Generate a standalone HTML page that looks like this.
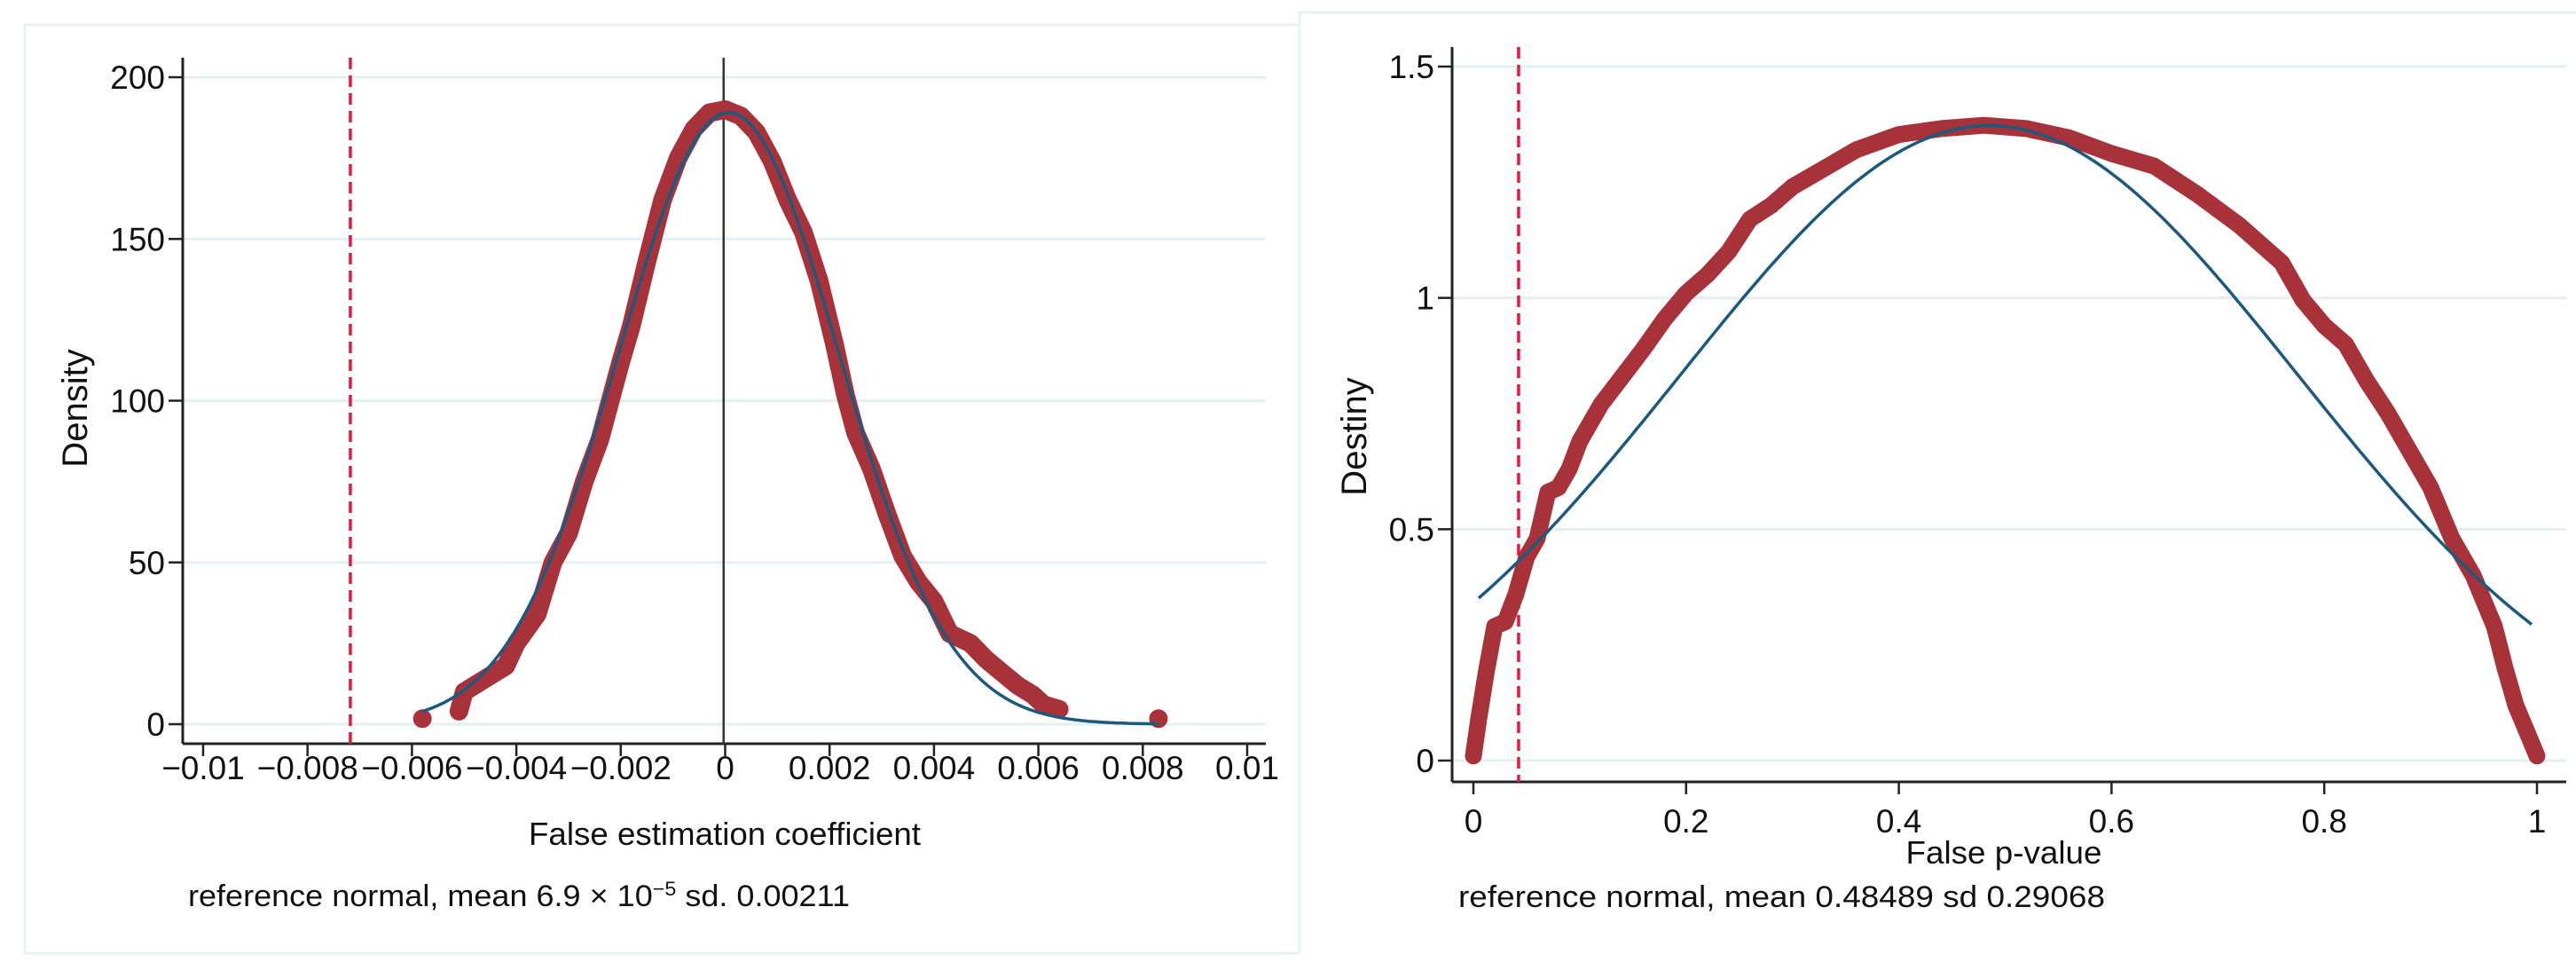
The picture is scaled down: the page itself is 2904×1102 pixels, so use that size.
<!DOCTYPE html>
<html><head><meta charset="utf-8"><style>
html,body{margin:0;padding:0;background:#fff;overflow:hidden;}
svg{display:block;font-family:"Liberation Sans",sans-serif;}
</style></head><body>
<svg id="fig" width="2904" height="1102" viewBox="0 0 2904 1102" xmlns="http://www.w3.org/2000/svg">
<rect x="28" y="28" width="1437" height="1046" fill="none" stroke="#e8f1f3" stroke-width="3"/>
<path d="M1465 1075 V14 H2904" fill="none" stroke="#e8f1f3" stroke-width="3"/>
<g id="left"></g>
<g id="right"></g>
</svg>
<script>
// ---- Left chart data ----
const leftXTicks = [-0.01,-0.008,-0.006,-0.004,-0.002,0,0.002,0.004,0.006,0.008,0.01];
const leftXTickLabels = ["\u22120.01","\u22120.008","\u22120.006","\u22120.004","\u22120.002","0","0.002","0.004","0.006","0.008","0.01"];
const leftYTicks = [0,50,100,150,200];
const leftDensX = [-0.0051,-0.0050,-0.0046,-0.0042,-0.0040,-0.0036,-0.0033,-0.0030,-0.0027,-0.0024,-0.0022,-0.0020,-0.0018,-0.0015,-0.0012,-0.0009,-0.0006,-0.0003,0,0.0003,0.0006,0.0009,0.0012,0.0015,0.0018,0.0021,0.0023,0.0025,0.0028,0.0031,0.0034,0.0037,0.0040,0.0043,0.0047,0.0050,0.0053,0.0056,0.0059,0.0061,0.0064];
const leftDensY = [4,10,14,18,25,34,50,59,75,88,100,112,123,143,162,175,184,189,190,188,183,174,162,152,137,117,102,90,79,65,52,44,38,28,25,20,16,12,9,6,4.6];
const leftIsoX = [-0.0058,0.0083];
const leftIsoY = [1.7,1.7];
const leftMean = 0.000069, leftSd = 0.00211;
const leftNormRange = [-0.0058,0.0083];
const leftCutoff = -0.00718;
const leftZeroLine = -0.00003;

// ---- Right chart data ----
const rightXTicks = [0,0.2,0.4,0.6,0.8,1];
const rightXTickLabels = ["0","0.2","0.4","0.6","0.8","1"];
const rightYTicks = [0,0.5,1,1.5];
const rightYTickLabels = ["0","0.5","1","1.5"];
const rightDensX = [0,0.005,0.012,0.02,0.03,0.04,0.05,0.06,0.07,0.08,0.09,0.10,0.12,0.14,0.16,0.18,0.20,0.22,0.24,0.26,0.28,0.30,0.33,0.36,0.40,0.44,0.48,0.52,0.56,0.60,0.64,0.68,0.72,0.76,0.78,0.80,0.82,0.84,0.86,0.88,0.90,0.92,0.94,0.96,0.97,0.98,0.99,1.0];
const rightDensY = [0.01,0.09,0.19,0.29,0.30,0.36,0.44,0.48,0.58,0.59,0.63,0.69,0.77,0.83,0.89,0.955,1.01,1.05,1.10,1.17,1.20,1.24,1.28,1.32,1.353,1.366,1.373,1.366,1.346,1.312,1.285,1.225,1.157,1.076,0.995,0.94,0.90,0.82,0.75,0.67,0.59,0.48,0.40,0.29,0.20,0.12,0.065,0.01];
const rightMean = 0.48489, rightSd = 0.29068;
const rightNormRange = [0.005,0.995];
const rightCutoff = 0.0425;

const NS = "http://www.w3.org/2000/svg";
function mk(parent, tag, attrs, text){
  const e = document.createElementNS(NS, tag);
  for (const k in attrs) e.setAttribute(k, attrs[k]);
  if (text !== undefined) e.textContent = text;
  parent.appendChild(e);
  return e;
}
function npdf(x,m,s){ return Math.exp(-0.5*((x-m)/s)**2)/(s*Math.sqrt(2*Math.PI)); }

function drawChart(g, cfg){
  const sx = v => cfg.x0 + (v - cfg.xmin)/(cfg.xmax - cfg.xmin)*(cfg.x1 - cfg.x0);
  const sy = v => cfg.y0 + (v - cfg.ymin)/(cfg.ymax - cfg.ymin)*(cfg.y1 - cfg.y0);
  cfg.yTicks.forEach((t,i)=>{
    const l = mk(g,'line',{x1:cfg.axX,x2:cfg.axRight,y1:sy(t),y2:sy(t),stroke:'#e3eff2','stroke-width':3});
    
    
    const tk = mk(g,'line',{x1:cfg.axX-16,x2:cfg.axX,y1:sy(t),y2:sy(t),stroke:'#222','stroke-width':2.5});
    
    
    const tx = mk(g,'text',{x:cfg.axX-20,y:sy(t)+13,'text-anchor':'end','font-size':37,fill:'#111'}, cfg.yLabels[i]);
    
    
  });
  cfg.xTicks.forEach((t,i)=>{
    const tk = mk(g,'line',{x1:sx(t),x2:sx(t),y1:cfg.axY,y2:cfg.axY+14,stroke:'#222','stroke-width':2.5});
    
    
    const tx = mk(g,'text',{x:sx(t),y:cfg.xlY,'text-anchor':'middle','font-size':37,fill:'#111'}, cfg.xLabels[i]);
    
    
  });
  const ya = mk(g,'line',{x1:cfg.axX,x2:cfg.axX,y1:cfg.axTop,y2:cfg.axY,stroke:'#222','stroke-width':3});
  
  
  const xa = mk(g,'line',{x1:cfg.axX,x2:cfg.axRight,y1:cfg.axY,y2:cfg.axY,stroke:'#222','stroke-width':3});
  
  
  if (cfg.zeroLine !== undefined){
    const z = mk(g,'line',{x1:sx(cfg.zeroLine),x2:sx(cfg.zeroLine),y1:cfg.axTop,y2:cfg.axY,stroke:'#333','stroke-width':2.5});
    
    
  }
  const c = mk(g,'line',{x1:sx(cfg.cutoff),x2:sx(cfg.cutoff),y1:cfg.axTop,y2:cfg.axY,stroke:'#e8193c','stroke-width':3.5,'stroke-dasharray':'13 7'});
  
  
  const pts = cfg.dx.map((v,i)=>sx(v).toFixed(1)+','+sy(cfg.dy[i]).toFixed(1)).join(' ');
  const pl = mk(g,'polyline',{points:pts,fill:'none',stroke:'#a8323a','stroke-width':cfg.dot*2,'stroke-linecap':'round','stroke-linejoin':'round'});
  
  
  (cfg.isoX||[]).forEach((v,i)=>{
    const d = mk(g,'circle',{cx:sx(v),cy:sy(cfg.isoY[i]),r:cfg.dot,fill:'#a8323a'});
    
    
  });
  let np = [];
  const n = 200;
  for (let i=0;i<=n;i++){
    const x = cfg.nr[0] + (cfg.nr[1]-cfg.nr[0])*i/n;
    np.push(sx(x).toFixed(1)+','+sy(npdf(x,cfg.mean,cfg.sd)).toFixed(1));
  }
  const nc = mk(g,'polyline',{points:np.join(' '),fill:'none',stroke:'#1b5a7e','stroke-width':3.5});
  
  
  const xt = mk(g,'text',{x:cfg.xtX,y:cfg.xtY,'text-anchor':'middle','font-size':36,fill:'#111',textLength:cfg.xtW,lengthAdjust:'spacingAndGlyphs'}, cfg.xTitle);
  
  
  const yt = mk(g,'text',{x:0,y:0,'text-anchor':'middle','font-size':40,fill:'#111',transform:`translate(${cfg.ytX},${cfg.ytY}) rotate(-90)`}, cfg.yTitle);
  
  
  const nt = mk(g,'text',{x:cfg.noteX,y:cfg.noteY,'font-size':34,fill:'#111',textLength:cfg.noteW,lengthAdjust:'spacingAndGlyphs'});
  
  
  cfg.note.forEach(p=>{
    mk(nt,'tspan',p.sup?{dy:-12,'font-size':22}:(p.after?{dy:12}:{}),p.t);
  });
}

drawChart(document.getElementById('left'),{
  xmin:-0.01,xmax:0.01,x0:229,x1:1406,ymin:0,ymax:200,y0:816,y1:87,
  axX:206,axTop:65,axY:838,axRight:1427,xlY:878,
  xTicks:leftXTicks,xLabels:leftXTickLabels,yTicks:leftYTicks,yLabels:leftYTicks.map(String),
  dx:leftDensX,dy:leftDensY,isoX:leftIsoX,isoY:leftIsoY,dot:10.5,
  mean:leftMean,sd:leftSd,nr:leftNormRange,cutoff:leftCutoff,zeroLine:leftZeroLine,
  xTitle:'False estimation coefficient',xtX:817,xtY:952,xtW:442,
  yTitle:'Density',ytX:98,ytY:460,
  noteX:212,noteY:1021,noteW:746,
  note:[{t:'reference normal, mean 6.9 \u00d7 10'},{t:'\u22125',sup:true},{t:' sd. 0.00211',after:true}]
});
drawChart(document.getElementById('right'),{
  xmin:0,xmax:1,x0:1661,x1:2860,ymin:0,ymax:1.5,y0:857,y1:75,
  axX:1637,axTop:53,axY:881,axRight:2893,xlY:938,
  xTicks:rightXTicks,xLabels:rightXTickLabels,yTicks:rightYTicks,yLabels:rightYTickLabels,
  dx:rightDensX,dy:rightDensY,dot:9.5,
  mean:rightMean,sd:rightSd,nr:rightNormRange,cutoff:rightCutoff,
  xTitle:'False p-value',xtX:2259,xtY:973,xtW:221,
  yTitle:'Destiny',ytX:1540,ytY:492,
  noteX:1644,noteY:1022,noteW:729,
  note:[{t:'reference normal, mean 0.48489 sd 0.29068'}]
});
</script>
</body></html>
